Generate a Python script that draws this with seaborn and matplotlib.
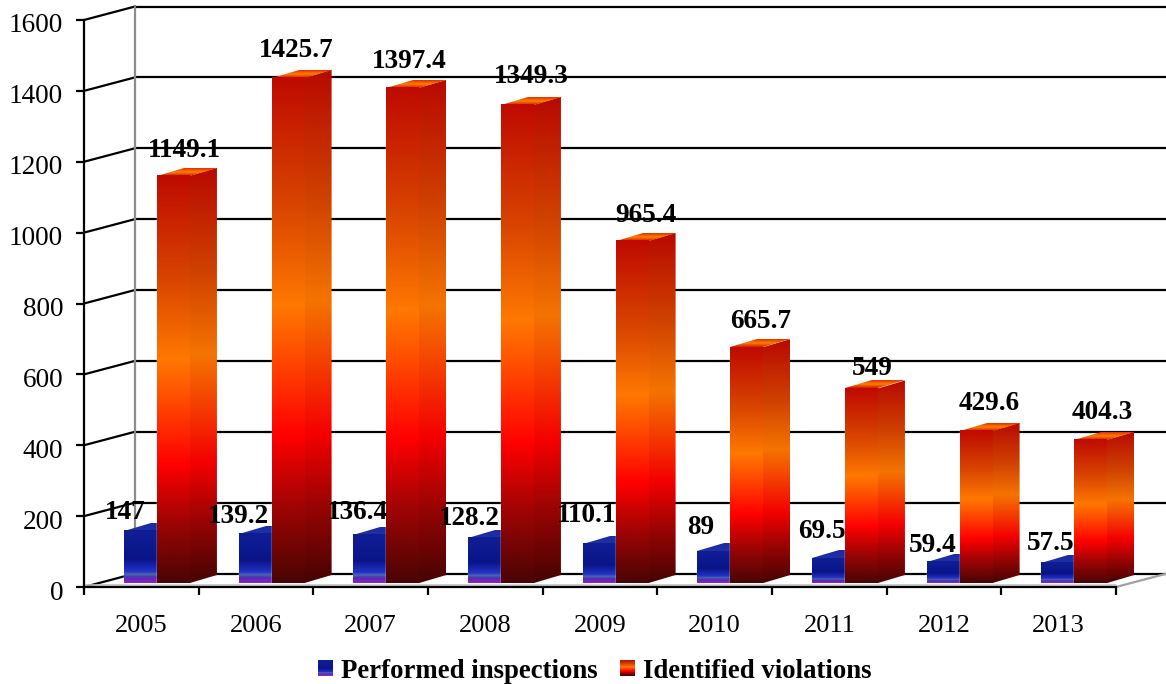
import numpy as np
import pandas as pd
import matplotlib
matplotlib.use("Agg")
import matplotlib.pyplot as plt
import seaborn as sns
from matplotlib.colors import LinearSegmentedColormap, to_rgb
from matplotlib.legend_handler import HandlerBase
from matplotlib.patches import Patch, Polygon, Rectangle
from matplotlib.transforms import Affine2D, ScaledTranslation

# Chart values
years = ["2005", "2006", "2007", "2008", "2009", "2010", "2011", "2012", "2013"]
inspections = [147, 139.2, 136.4, 128.2, 110.1, 89, 69.5, 59.4, 57.5]
violations = [1149.1, 1425.7, 1397.4, 1349.3, 965.4, 665.7, 549, 429.6, 404.3]
inspections_name = "Performed inspections"
violations_name = "Identified violations"
y_ticks = [0, 200, 400, 600, 800, 1000, 1200, 1400, 1600]

# Per-label nudges in pixels, relative to the top centre of each bar
inspection_nudges = [(-15, 18), (-17, 17), (-12, 22), (-15, 19), (-13, 28),
                     (-13, 24), (-7, 27), (-11, 16), (-7, 19)]
violation_nudges = [(11, 25), (8, 27), (6, 26), (14, 28), (14, 25),
                    (14, 26), (11, 20), (13, 27), (11, 27)]

# Colour ramps, listed from the top of a bar to its bottom
red_ramp = [(0.0, "#bf0a00"), (0.25, "#d84400"), (0.45, "#ff7800"), (0.52, "#ff5a00"),
            (0.71, "#ff0000"), (0.85, "#a00404"), (1.0, "#4a0404")]
blue_ramp = [(0.0, "#101e96"), (0.55, "#0a1488"), (0.78, "#2232c8"), (0.84, "#5068a8"),
             (0.88, "#3c3cb0"), (0.92, "#7020b8"), (1.0, "#8a24c4")]


def darker(ramp, k):
    return [(p, tuple(k * c for c in to_rgb(col))) for p, col in ramp]


red_cmap = LinearSegmentedColormap.from_list("red_bar", red_ramp)
blue_cmap = LinearSegmentedColormap.from_list("blue_bar", blue_ramp)
red_side = LinearSegmentedColormap.from_list("red_side", darker(red_ramp, 0.96))
blue_side = LinearSegmentedColormap.from_list("blue_side", darker(blue_ramp, 0.96))
red_lid = LinearSegmentedColormap.from_list("red_lid", ["#d01c00", "#ff8000", "#e03000"])
blue_lid = LinearSegmentedColormap.from_list("blue_lid", ["#2030a8", "#1a2aa0"])
ramp = np.linspace(0, 1, 256)[:, None]

sns.set_theme(style="white")
plt.rcParams["font.family"] = ["Liberation Serif", "DejaVu Serif"]

W, H = 1166, 684
fig = plt.figure(figsize=(W / 100, H / 100), dpi=100)
left, right, top, bottom = 84, 1116, 20, 587
ax = fig.add_axes([left / W, 1 - bottom / H, (right - left) / W, (bottom - top) / H])

table = pd.DataFrame({
    "year": years * 2,
    "value": inspections + violations,
    "series": [inspections_name] * len(years) + [violations_name] * len(years),
})
sns.barplot(data=table, x="year", y="value", hue="series", order=years,
            palette=["#0a1488", "#ff3c00"], width=0.574, dodge=True, saturation=1,
            errorbar=None, legend=False, ax=ax)
ax.set_xlim(-0.5, 8.5)
ax.set_ylim(0, 1600)
ax.autoscale(False)
ax.set_xlabel("")
ax.set_ylabel("")

px_x = (right - left) / 9
px_y = (bottom - top) / 1600


def shift(dx, dy):
    """Data transform moved by dx, dy pixels (dy upward)."""
    return ax.transData + ScaledTranslation(dx / 100, dy / 100, fig.dpi_scale_trans)


def face(cmap, corner, u, v, offset, z):
    """Paint a gradient on the parallelogram corner, corner+u, corner+v."""
    unit = Affine2D.from_values(u[0], u[1], v[0], v[1], corner[0], corner[1])
    ax.imshow(ramp, cmap=cmap, extent=(0, 1, 1, 0), aspect="auto", interpolation="bilinear",
              transform=unit + offset, clip_on=False, zorder=z, origin="upper")


def side_face(cmap, x, h, dx, dy, offset, z):
    """Side wall whose colour bands stay level with those on the front."""
    tuck = 3 / px_x  # reaches under the front face so no seam shows
    im = ax.imshow(ramp, cmap=cmap, extent=(x - tuck, x + dx, 0, h + dy), aspect="auto",
                   interpolation="bilinear", transform=offset, zorder=z, origin="upper")
    outline = Polygon([(x - tuck, 0), (x, 0), (x + dx, dy), (x + dx, h + dy), (x, h), (x - tuck, h)],
                      transform=offset)
    im.set_clip_path(outline)
    im.set_clip_box(fig.bbox)


# Back wall, floor and the box edges
wall_dx, wall_dy = 51, 13.5
wall = shift(wall_dx, wall_dy)
for t in y_ticks:
    ax.plot([-0.5, 8.5], [t, t], color="black", lw=1.6, transform=wall, clip_on=False,
            zorder=1, solid_capstyle="butt")
    ax.plot([-0.5, -0.5 + wall_dx / px_x], [t, t + wall_dy / px_y], color="black", lw=1.6,
            clip_on=False, zorder=1)
ax.plot([-0.5, -0.5], [0, 1600], color="#8c8c8c", lw=1.6, transform=wall, clip_on=False, zorder=1)
ax.plot([8.5, 8.5 + wall_dx / px_x], [0, wall_dy / px_y], color="#a0a0a0", lw=1.6,
        clip_on=False, zorder=1)
ax.plot([-0.5, 8.5], [5, 5], color="#c4c4c4", lw=1.2, zorder=1, clip_on=False)

# Extruded bars
bar_dx, bar_dy = 15.7, 4
depth_x, depth_y = 27 / px_x, 8 / px_y
bar_shift = shift(bar_dx, bar_dy)
n = len(years)
patches = [p for p in ax.patches if p.get_height() > 0]
patches.sort(key=lambda p: p.get_x())
z = 3
for idx, p in enumerate(patches):
    x0, w, h = p.get_x(), p.get_width(), p.get_height()
    is_red = idx % 2 == 1
    front, side, lid = (red_cmap, red_side, red_lid) if is_red else (blue_cmap, blue_side, blue_lid)
    p.set_transform(bar_shift)
    p.set_clip_on(False)
    p.set_zorder(z)
    side_face(side, x0 + w, h, depth_x, depth_y, bar_shift, z + 0.1)
    face(lid, (x0, h), (w, 0), (depth_x, depth_y), bar_shift, z + 0.2)
    face(front, (x0, h), (w, 0), (0, -h), bar_shift, z + 0.3)
    z += 1
ax.set_xlim(-0.5, 8.5)
ax.set_ylim(0, 1600)

# Value labels above the bars
label_style = dict(ha="center", va="center", fontsize=19.6, fontweight="bold",
                   color="black", zorder=40, annotation_clip=False,
                   textcoords="offset pixels")
for i, (a, b) in enumerate(zip(inspections, violations)):
    ax.annotate(f"{a:g}", xy=(i - 0.1435, a),
                xytext=(bar_dx + inspection_nudges[i][0], bar_dy + inspection_nudges[i][1]),
                **label_style)
    ax.annotate(f"{b:g}", xy=(i + 0.1435, b),
                xytext=(bar_dx + violation_nudges[i][0], bar_dy + violation_nudges[i][1]),
                **label_style)

# Axes, with ticks on the category boundaries and labels in the middle
sns.despine(ax=ax, top=True, right=True)
for name in ("left", "bottom"):
    ax.spines[name].set_linewidth(1.6)
    ax.spines[name].set_color("black")
    ax.spines[name].set_zorder(2)
ax.set_yticks(y_ticks)
ax.tick_params(axis="y", length=5.8, width=1.6, color="black", labelsize=19.6, pad=9.2,
               labelcolor="black", left=True)
ax.set_xticks(np.arange(-0.5, 9, 1))
ax.set_xticklabels([])
ax.set_xticks(np.arange(n), labels=years, minor=True)
ax.tick_params(axis="x", which="major", length=6, width=1.6, color="black", bottom=True)
ax.tick_params(axis="x", which="minor", length=0, labelsize=19, pad=20, labelcolor="black")
ax.grid(False)
drop = ScaledTranslation(0, -3 / 100, fig.dpi_scale_trans)
for label in ax.get_yticklabels():
    label.set_transform(label.get_transform() + drop)


class GradientSwatch(HandlerBase):
    """Legend key built from thin stripes of a colormap."""

    def __init__(self, cmap):
        super().__init__()
        self.cmap = cmap

    def create_artists(self, legend, orig, xd, yd, width, height, fontsize, trans):
        stripes = []
        steps = 24
        for k in range(steps):
            stripes.append(Rectangle((-xd, -yd + height * (1 - (k + 1) / steps)), width,
                                     height / steps + 0.2, facecolor=self.cmap(k / (steps - 1)),
                                     edgecolor="none", transform=trans))
        return stripes


key_a, key_b = Patch(), Patch()
fig.legend([key_a, key_b], [inspections_name, violations_name], ncols=2, frameon=False,
           handler_map={key_a: GradientSwatch(blue_cmap), key_b: GradientSwatch(red_cmap)},
           loc="center", bbox_to_anchor=(595 / W, 1 - 671 / H), handlelength=0.55,
           handleheight=0.55, handletextpad=0.3, columnspacing=0.85, borderpad=0,
           labelcolor="black", prop={"weight": "bold", "size": 19.25})

fig.savefig("out.png", dpi=100, facecolor="white")
